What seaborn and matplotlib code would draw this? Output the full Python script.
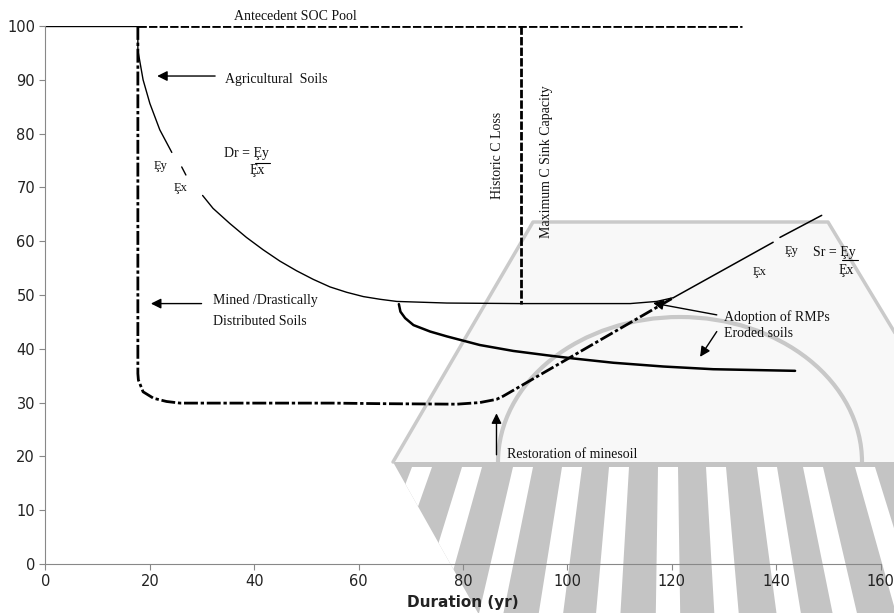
import matplotlib
matplotlib.use("Agg")
import matplotlib.pyplot as plt
from matplotlib.patches import Polygon, Arc
import numpy as np
import pandas as pd
import seaborn as sns

# ---------------------------------------------------------------------- #
# Values (Duration in yr, relative SOC pool)
# ---------------------------------------------------------------------- #
# agricultural soils -- split where the E-labels interrupt the curve
agri_seg = [
    ([0, 17.7], [100, 100]),
    ([17.7, 17.7, 18.7, 20.0, 21.9, 24.2],
     [100, 95.5, 90.0, 85.6, 80.7, 76.5]),
    ([26.1, 26.9], [73.8, 72.3]),
    ([30.1, 32.1, 35.3, 38.5, 41.7, 44.9, 48.1, 51.3, 54.5, 57.7, 60.9,
      64.1, 67.3, 76.9, 90.9, 112.0, 117.1, 120.3],
     [68.5, 66.1, 63.3, 60.7, 58.4, 56.3, 54.5, 52.9, 51.5, 50.5, 49.7,
      49.2, 48.8, 48.5, 48.4, 48.4, 48.8, 49.5]),
]
# mined / drastically disturbed soils, then restoration of minesoil
mined_x = [17.7, 17.7, 17.8, 18.7, 20.7, 23.2, 25.8, 40.0, 55.0, 64.1,
           78.8, 83.2, 86.4, 87.7, 120.3]
mined_y = [100, 35.4, 34.2, 32.0, 30.8, 30.2, 29.9, 29.9, 29.9, 29.8,
           29.7, 30.0, 30.6, 31.2, 49.5]
# sequestration after adoption of RMPs
sink_seg = [
    ([120.3, 139.4], [49.5, 59.8]),
    ([140.7, 148.7], [60.7, 64.8]),
]
# eroded soils
eroded_x = [67.7, 68.0, 68.9, 70.5, 73.7, 76.9, 83.2, 89.6, 96.0, 101.1,
            108.8, 118.4, 127.9, 143.6]
eroded_y = [48.3, 46.9, 45.7, 44.4, 43.2, 42.3, 40.7, 39.6, 38.8, 38.2,
            37.4, 36.7, 36.2, 35.9]
# antecedent pool and historic loss marker
pool_x = [17.7, 133.5]
pool_y = [100, 100]
hist_x = [91.1, 91.1]
hist_y = [100, 48.4]

x_ticks = list(range(0, 161, 20))
y_ticks = list(range(0, 101, 10))

SERIF = ["Liberation Serif", "DejaVu Serif"]


def _seg_frame(segs):
    rows = []
    for i, (xs, ys) in enumerate(segs):
        for x, y in zip(xs, ys):
            rows.append({"x": x, "y": y, "seg": i})
    return pd.DataFrame(rows)


def _line(ax, df, **kw):
    sns.lineplot(data=df, x="x", y="y", units="seg", estimator=None,
                 sort=False, ax=ax, color="black", legend=False, **kw)


# ---------------------------------------------------------------------- #
# Background watermark (figure pixel space)
# ---------------------------------------------------------------------- #
def _watermark(fig):
    bg = fig.add_axes([0, 0, 1, 1], zorder=0)
    bg.set_xlim(0, 895)
    bg.set_ylim(613, 0)
    bg.axis("off")
    grey = "#c4c4c4"
    bg.add_patch(Polygon([(393, 462), (533, 222), (828, 222), (895, 333), (895, 462)],
                         facecolor="#f8f8f8", edgecolor="none"))
    bg.plot([393, 533, 828, 895], [462, 222, 222, 333], color="#cacaca", lw=2.5)
    bg.add_patch(Arc((680, 462), 364, 290, theta1=180, theta2=360,
                     color="#c8c8c8", lw=3))
    low = Polygon([(393, 462), (895, 462), (895, 613), (478, 613)],
                  facecolor=grey, edgecolor="none")
    bg.add_patch(low)
    fx, fy = 668, -200
    scale = (613 - fy) / (467 - fy)
    for c in [422, 472, 523, 572, 619, 668, 716, 767, 813, 865, 912]:
        a, b = c - 10, c + 10
        pts = [(a, 467), (b, 467),
               (fx + (b - fx) * scale, 613), (fx + (a - fx) * scale, 613)]
        p = Polygon(pts, facecolor="white", edgecolor="none")
        bg.add_patch(p)
        p.set_clip_path(low)


sns.set_theme(style="ticks")
fig = plt.figure(figsize=(8.95, 6.13), dpi=100)
_watermark(fig)
ax = fig.add_axes([0.0508, 0.080, 0.9332, 0.8776], zorder=1)
ax.patch.set_alpha(0)

# curves
_line(ax, _seg_frame(agri_seg), lw=1.0)
_line(ax, _seg_frame([(mined_x, mined_y)]), lw=2.0,
      linestyle=(0, (5, 1, 1.2, 1)))
_line(ax, _seg_frame(sink_seg), lw=1.1)
_line(ax, _seg_frame([(eroded_x, eroded_y)]), lw=1.8)
_line(ax, _seg_frame([(pool_x, pool_y)]), lw=2.0, linestyle=(0, (3, 0.8)))
_line(ax, _seg_frame([(hist_x, hist_y)]), lw=2.0, linestyle=(0, (3, 0.8)))

# labels & arrows
tk = dict(family=SERIF, fontsize=10, color="#111111")
ax.text(47.8, 101.7, "Antecedent SOC Pool", ha="center", va="center", **tk)
ax.text(34.4, 90.1, "Agricultural  Soils", ha="left", va="center", **tk)
ax.text(32.0, 48.9, "Mined /Drastically", ha="left", va="center", **tk)
ax.text(32.0, 45.0, "Distributed Soils", ha="left", va="center", **tk)
ax.text(86.5, 76.0, "Historic C Loss", rotation=90, ha="center", va="center", **tk)
ax.text(95.9, 74.7, "Maximum C Sink Capacity", rotation=90, ha="center",
        va="center", **tk)
ax.text(129.9, 45.9, "Adoption of RMPs", ha="left", va="center", **tk)
ax.text(129.9, 42.8, "Eroded soils", ha="left", va="center", **tk)
ax.text(88.4, 20.4, "Restoration of minesoil", ha="left", va="center", **tk)

sk = dict(family=SERIF, fontsize=9, color="#111111")
ax.text(20.7, 74.0, "Ȩy", ha="left", va="center", **sk)
ax.text(24.6, 69.8, "Ȩx", ha="left", va="center", **sk)
ax.text(34.2, 76.3, "Dr = Ȩy", ha="left", va="center", **tk)
ax.text(39.0, 73.2, "Ȩx", ha="left", va="center", **tk)
ax.plot([40.1, 43.0], [74.6, 74.6], color="black", lw=0.8)
ax.text(135.5, 54.3, "Ȩx", ha="left", va="center", **sk)
ax.text(141.7, 58.2, "Ȩy", ha="left", va="center", **sk)
ax.text(147.1, 57.9, "Sr = Ȩy", ha="left", va="center", **tk)
ax.text(151.9, 54.6, "Ȩx", ha="left", va="center", **tk)
ax.plot([152.5, 155.7], [56.5, 56.5], color="black", lw=0.8)

arw = dict(arrowstyle="-|>", color="black", lw=1.0, mutation_scale=15,
           shrinkA=0, shrinkB=0)
ax.annotate("", xy=(21.4, 90.7), xytext=(32.5, 90.7), arrowprops=arw)
ax.annotate("", xy=(20.2, 48.4), xytext=(29.9, 48.4), arrowprops=arw)
ax.annotate("", xy=(116.4, 48.5), xytext=(128.6, 46.3), arrowprops=arw)
ax.annotate("", xy=(125.4, 38.5), xytext=(128.6, 43.2), arrowprops=arw)
ax.annotate("", xy=(86.4, 28.0), xytext=(86.4, 20.3), arrowprops=arw)

# axes
ax.set_xlim(0, 160)
ax.set_ylim(0, 100)
ax.set_xticks(x_ticks)
ax.set_yticks(y_ticks)
ax.tick_params(axis="both", direction="out", length=4, width=0.8,
               colors="#888888", labelcolor="#222222", labelsize=10.5)
for s in ["top", "right"]:
    ax.spines[s].set_visible(False)
for s in ["left", "bottom"]:
    ax.spines[s].set_color("#888888")
    ax.spines[s].set_linewidth(0.8)
ax.set_xlabel("Duration (yr)", fontsize=11, fontweight="bold", color="#222222",
              labelpad=4)
ax.set_ylabel("")

fig.savefig("out.png", dpi=100)
